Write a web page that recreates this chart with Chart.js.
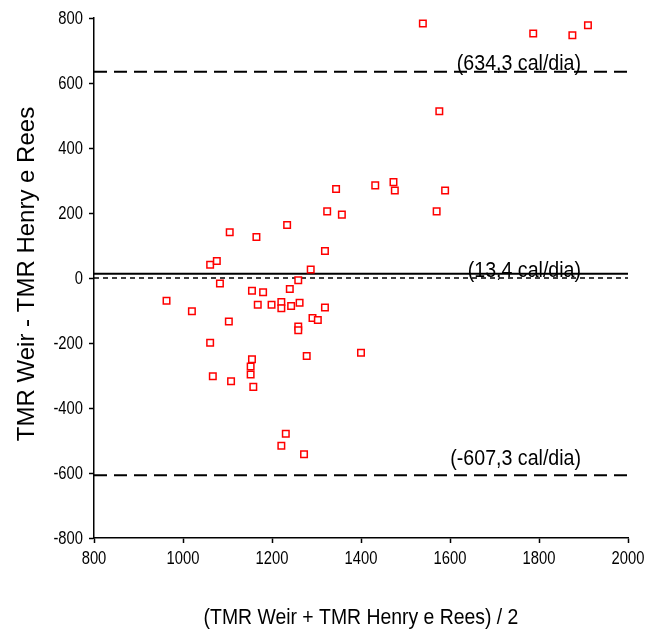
<!DOCTYPE html>
<html>
<head>
<meta charset="utf-8">
<script src="https://cdn.jsdelivr.net/npm/chart.js@4/dist/chart.umd.min.js"></script>
<style>
  html, body { margin: 0; padding: 0; background: #fff; }
  canvas { display: block; }
</style>
</head>
<body>
<canvas id="bland" width="648" height="629"></canvas>
<script>
// Bland-Altman: mean of the two TMR estimates vs. their difference (cal/dia)
const meanValues = [
  963, 1020, 1061, 1076, 1083, 1061, 1067, 1103, 1105, 1108,
  1152, 1152, 1155, 1155, 1158, 1165, 1168, 1180, 1199, 1221,
  1221, 1221, 1231, 1234, 1240, 1243, 1259, 1259, 1259, 1262,
  1272, 1278, 1287, 1291, 1303, 1319, 1319, 1324, 1344, 1357,
  1400, 1432, 1473, 1476, 1539, 1570, 1576, 1589, 1787, 1875,
  1910
];
const differences = [
  -70, -102, 41, 52, -17, -199, -302, -134, 141, -318,
  -272, -297, -39, -250, -335, 126, -82, -44, -82, -74,
  -93, -516, -479, 163, -34, -86, -7, -149, -161, -76,
  -542, -240, 26, -123, -129, 83, -91, 205, 274, 195,
  -230, 285, 295, 269, 783, 205, 513, 269, 752, 747,
  778
];

// Limits of agreement and mean bias
const upperLimit = 634.3;
const meanBias = 13.4;
const lowerLimit = -607.3;

const xTicks = [800, 1000, 1200, 1400, 1600, 1800, 2000];
const yTicks = [-800, -600, -400, -200, 0, 200, 400, 600, 800];

const xTitle = '(TMR Weir + TMR Henry e Rees) / 2';
const yTitle = 'TMR Weir - TMR Henry e Rees';

const fmt = v => '(' + v.toFixed(1).replace('.', ',') + ' cal/dia)';

const TEXT_FONT = "'Liberation Sans', Arial, sans-serif";

const xMin = xTicks[0], xMax = xTicks[xTicks.length - 1];
const yMin = yTicks[0], yMax = yTicks[yTicks.length - 1];

function hLine(value, width, dash) {
  return {
    data: [{ x: xMin, y: value }, { x: xMax, y: value }],
    showLine: true,
    borderColor: '#000',
    borderWidth: width,
    borderDash: dash,
    pointRadius: 0,
    fill: false,
    order: 2
  };
}

// Text drawn slightly taller than wide, like the rest of the figure's lettering
function stretchedText(ctx, text, x, y, size, align, sy) {
  ctx.save();
  ctx.translate(x, y);
  ctx.scale(1, sy);
  ctx.font = size + 'px ' + TEXT_FONT;
  ctx.textAlign = align;
  ctx.textBaseline = 'alphabetic';
  ctx.fillText(text, 0, 0);
  ctx.restore();
}

const TICK_SIZE = 14.8, TICK_SY = 1.2;

const annotations = {
  id: 'annotations',
  afterDatasetsDraw(chart, args, opts) {
    const { ctx, chartArea, scales } = chart;
    ctx.save();
    ctx.fillStyle = '#000';

    // tick labels
    const digitHalf = 0.358 * TICK_SIZE * TICK_SY;
    yTicks.forEach(v => {
      stretchedText(ctx, String(v), chartArea.left - 11, scales.y.getPixelForValue(v) + digitHalf,
        TICK_SIZE, 'right', TICK_SY);
    });
    xTicks.forEach(v => {
      stretchedText(ctx, String(v), scales.x.getPixelForValue(v), chartArea.bottom + 13 + 2 * digitHalf,
        TICK_SIZE, 'center', TICK_SY);
    });

    // limit / bias labels
    opts.labels.forEach(l => {
      const py = scales.y.getPixelForValue(l.value) + l.dy;
      stretchedText(ctx, fmt(l.value), chartArea.right - 47, py, 19.6, 'right', 1.12);
    });

    // x axis title
    stretchedText(ctx, xTitle, (chartArea.left + chartArea.right) / 2, 624, 19.4, 'center', 1.1);

    // y axis title
    ctx.save();
    ctx.translate(34, (chartArea.top + chartArea.bottom) / 2 - 4);
    ctx.rotate(-Math.PI / 2);
    ctx.font = '24px ' + TEXT_FONT;
    ctx.textAlign = 'center';
    ctx.textBaseline = 'alphabetic';
    ctx.fillText(yTitle, 0, 0);
    ctx.restore();

    ctx.restore();
  }
};

const axisCommon = {
  border: { display: true, color: '#000', width: 1.5 },
  grid: {
    display: true,
    drawOnChartArea: false,
    drawTicks: true,
    tickLength: 5,
    tickWidth: 1.5,
    tickColor: '#000'
  },
  ticks: { display: false }
};

new Chart(document.getElementById('bland'), {
  type: 'scatter',
  data: {
    datasets: [
      {
        data: meanValues.map((x, i) => ({ x, y: differences[i] })),
        pointStyle: 'rect',
        pointRadius: 4.6,
        borderWidth: 1.5,
        borderColor: '#ff0000',
        backgroundColor: '#ffffff',
        order: 1
      },
      hLine(upperLimit, 2, [13, 7]),
      hLine(meanBias, 2, []),
      hLine(0, 1.5, [5, 4]),
      hLine(lowerLimit, 2, [13, 7])
    ]
  },
  options: {
    responsive: false,
    animation: false,
    events: [],
    layout: { padding: { top: 18, right: 20, bottom: 0, left: 0 } },
    plugins: {
      legend: { display: false },
      tooltip: { enabled: false },
      annotations: {
        labels: [
          { value: upperLimit, dy: -1.5 },
          { value: meanBias, dy: 3 },
          { value: lowerLimit, dy: -10 }
        ]
      }
    },
    scales: {
      x: {
        ...axisCommon,
        type: 'linear',
        min: xMin,
        max: xMax,
        afterBuildTicks: s => { s.ticks = xTicks.map(v => ({ value: v })); },
        afterFit: s => { s.height = 91; }
      },
      y: {
        ...axisCommon,
        type: 'linear',
        min: yMin,
        max: yMax,
        afterBuildTicks: s => { s.ticks = yTicks.map(v => ({ value: v })); },
        afterFit: s => { s.width = 94; }
      }
    }
  },
  plugins: [annotations]
});
</script>
</body>
</html>
